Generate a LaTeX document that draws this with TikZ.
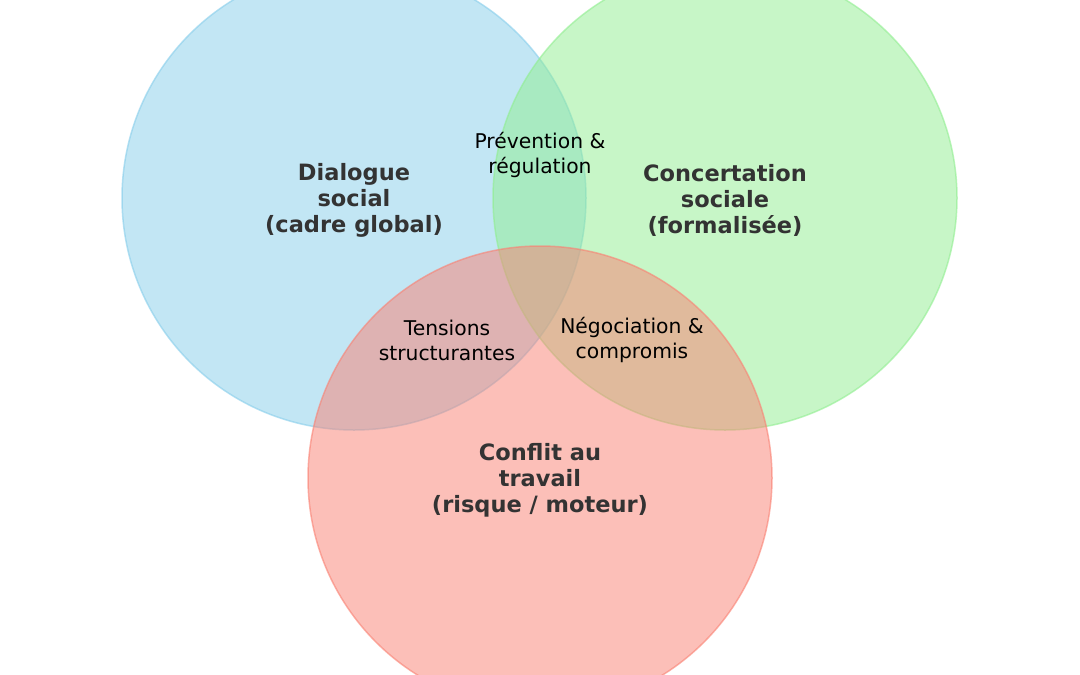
\documentclass[tikz,border=0pt]{standalone}
\usepackage{fontspec}
\setmainfont{DejaVu Sans}
\definecolor{cb}{HTML}{87CEEB}
\definecolor{cg}{HTML}{90EE90}
\definecolor{cr}{HTML}{FA8072}
\definecolor{tx}{HTML}{333333}
\begin{document}
\begin{tikzpicture}[x=1pt,y=-1pt,
  circ/.style={fill opacity=0.5, draw opacity=0.6, line width=1.5pt},
  big/.style={font=\fontsize{22.5}{26}\selectfont\bfseries, text=tx, align=center},
  small/.style={font=\fontsize{20.3}{25}\selectfont, text=black, align=center}]
\useasboundingbox (0,0) rectangle (1080,675);
\clip (0,0) rectangle (1080,675);
\fill[white] (0,0) rectangle (1080,675);
\path[circ, fill=cb, draw=cb] (354,198) circle (232);
\path[circ, fill=cg, draw=cg] (725,198) circle (232);
\path[circ, fill=cr, draw=cr] (540,478) circle (232);
\node[big] (d) at (354,200) {Dialogue\\social\\(cadre global)};
\node[big] (c) at (725,200) {Concertation\\sociale\\(formalisée)};
\node[big] (f) at (540,480) {Conflit au\\travail\\(risque / moteur)};
\node[small] (p) at (540,155) {Prévention \&\\régulation};
\node[small] (t) at (447,340) {Tensions\\structurantes};
\node[small] (n) at (632,340) {Négociation \&\\compromis};
\end{tikzpicture}
\end{document}
